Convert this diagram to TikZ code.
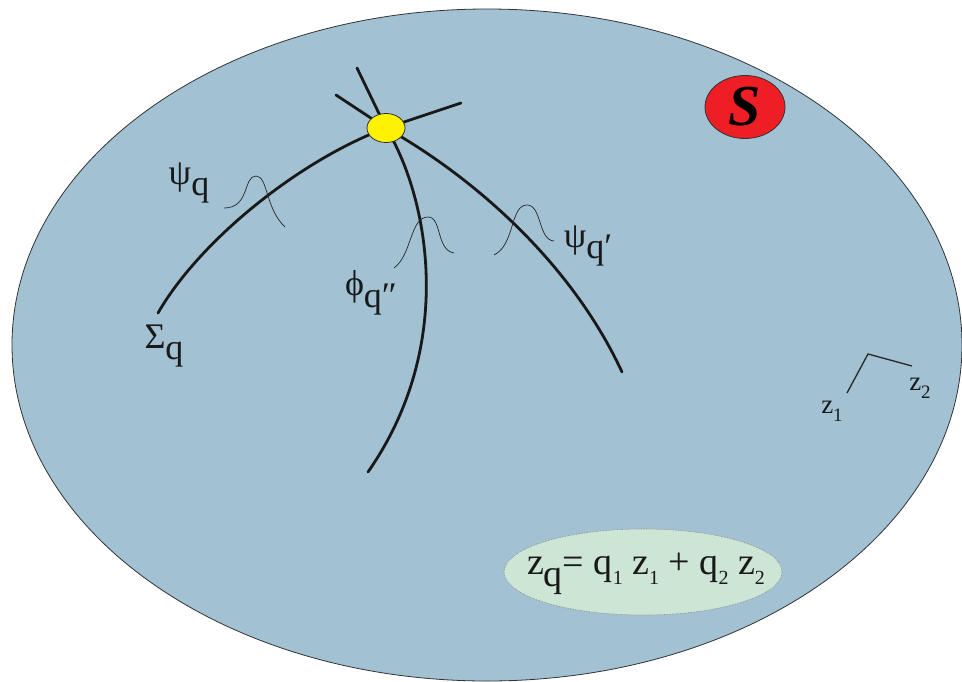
\documentclass[tikz,border=0pt]{standalone}
\usepackage{fontspec}
\setmainfont{Liberation Serif}
\usepackage{tikz}
\usetikzlibrary{positioning,shapes.geometric}
\definecolor{surf}{RGB}{162,193,210}
\definecolor{vtx}{RGB}{255,242,0}
\definecolor{sred}{RGB}{237,30,36}
\definecolor{eqgreen}{RGB}{204,229,212}
\newcommand{\lowsub}[2][-0.32em]{\raisebox{#1}{#2}}

\begin{document}
\begin{tikzpicture}[x=1pt,y=-1pt,
  curve/.style={line width=2.8pt,line cap=round,draw=black!90},
  bump/.style={line width=0.7pt,draw=black!85},
  lbl/.style={inner sep=0pt,text=black!90,font=\fontsize{36}{40}\selectfont}]
  \useasboundingbox (0,0) rectangle (962,681);
  % the surface
  \draw[fill=surf,line width=0.8pt,draw=black!80] (487,345) ellipse[x radius=475,y radius=336];
  % curves through the vertex
  \draw[curve] (461,103) -- (386,128) .. controls (300,160) and (200,240) .. (158,313);
  \draw[curve] (336,95) -- (386,128) .. controls (470,175) and (570,260) .. (622,372);
  \draw[curve] (357,68) -- (386,128) .. controls (425,190) and (460,340) .. (368,472);
  \node[draw=black!80,fill=vtx,ellipse,minimum width=38pt,minimum height=29pt,line width=0.8pt,inner sep=0pt] (vert) at (386,128) {};
  % wave packets
  \draw[bump] (224,208) .. controls (250,208) and (243,176) .. (256,176)
    .. controls (268,176) and (265,208) .. (285,227);
  \draw[bump] (394,268) .. controls (412,255) and (410,217) .. (428,217)
    .. controls (442,217) and (436,250) .. (454,253);
  \draw[bump] (494,255) .. controls (515,245) and (510,205) .. (527,205)
    .. controls (542,205) and (538,240) .. (554,241);
  % labels
  \node[lbl] (psiq) at (189,183) {ψ\lowsub{q}};
  \node[lbl] (psiqp) at (588,246) {ψ\lowsub{q′}};
  \node[lbl] (phiq) at (371,293) {ϕ\lowsub{q″}};
  \node[lbl] (sigq) at (164,346) {Σ\lowsub{q}};
  % the S badge
  \node[draw=black!80,fill=sred,ellipse,minimum width=80pt,minimum height=63pt,line width=0.8pt,inner sep=0pt] (badge) at (745,107)
    {\fontsize{58}{60}\selectfont\bfseries\itshape S};
  % axes
  \coordinate (corner) at (868,354);
  \coordinate (ax1) at (847,393);
  \coordinate (ax2) at (912,366);
  \draw[line width=1.3pt,draw=black!85] (ax1) -- (corner) -- (ax2);
  \node[lbl,font=\fontsize{27}{30}\selectfont] (zone) at (832,411) {z\lowsub[-0.3em]{\fontsize{19}{22}\selectfont 1}};
  \node[lbl,font=\fontsize{27}{30}\selectfont] (ztwo) at (920,388) {z\lowsub[-0.3em]{\fontsize{19}{22}\selectfont 2}};
  % the equation
  \draw[draw=gray,densely dotted,fill=eqgreen,line width=0.6pt] (643,572) ellipse[x radius=139,y radius=43];
  \node[lbl,font=\fontsize{38}{42}\selectfont] (eq) at (646,574)
    {z\lowsub[-0.3em]{q}= q\lowsub[-0.25em]{\fontsize{20}{22}\selectfont 1} z\lowsub[-0.25em]{\fontsize{20}{22}\selectfont 1} + q\lowsub[-0.25em]{\fontsize{20}{22}\selectfont 2} z\lowsub[-0.25em]{\fontsize{20}{22}\selectfont 2}};
\end{tikzpicture}
\end{document}
